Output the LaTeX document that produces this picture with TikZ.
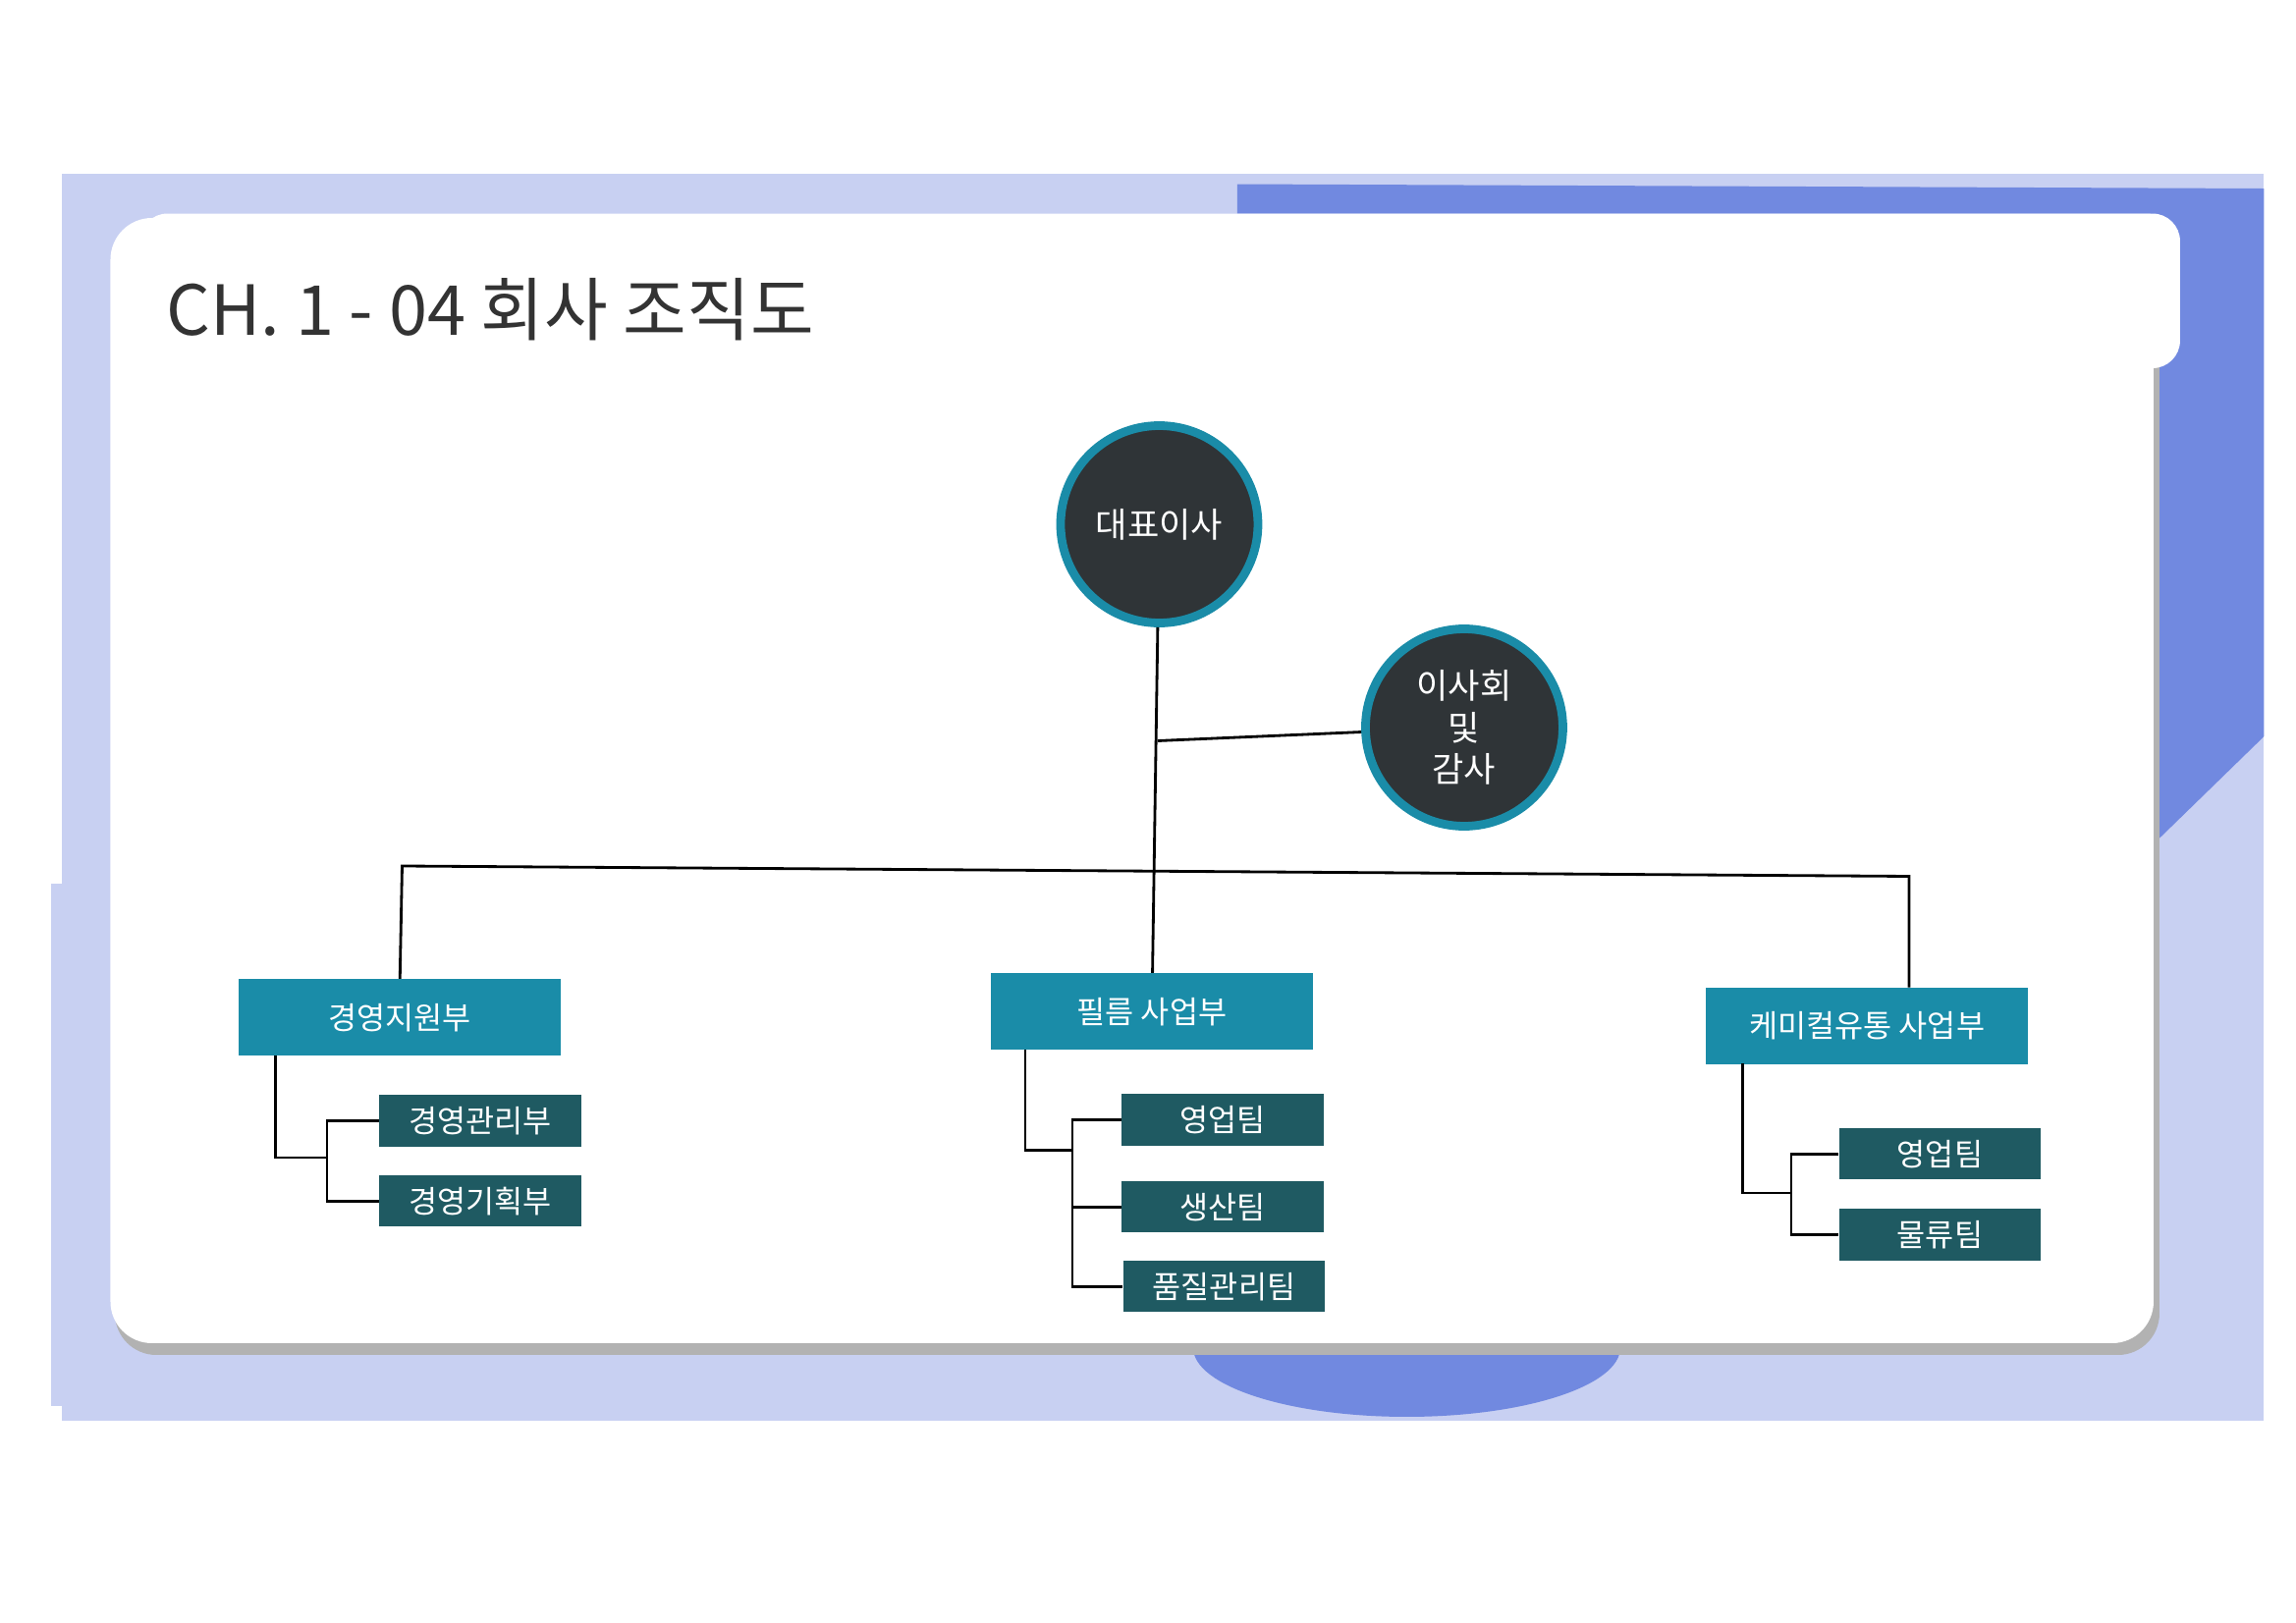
\documentclass[tikz,border=0pt]{standalone}
\usepackage{fontspec}
\setmainfont{Noto Sans CJK KR}
\usetikzlibrary{positioning}
\definecolor{bglav}{HTML}{C8D0F2}
\definecolor{bgblue}{HTML}{7189E0}
\definecolor{headteal}{HTML}{1A8CA8}
\definecolor{subteal}{HTML}{1F5A62}
\definecolor{circdark}{HTML}{2F3437}
\tikzset{
  head/.style={fill=headteal, text=white, minimum width=219*0.015cm, minimum height=52*0.015cm, font=\fontsize{9}{11}\selectfont},
  sub/.style={fill=subteal, text=white, minimum width=137*0.015cm, minimum height=35*0.015cm, font=\fontsize{9}{11}\selectfont},
  boss/.style={circle, fill=circdark, draw=headteal, line width=2.5pt, minimum size=134*0.015cm, text=white, align=center, font=\fontsize{10}{12}\selectfont},
  link/.style={draw=black, line width=0.8pt}
}
\begin{document}
\begin{tikzpicture}[x=0.015cm, y=-0.015cm]
  \useasboundingbox (0,0) rectangle (1558.7,1102);
  \fill[white] (0,0) rectangle (1558.7,1102);
  % background
  \fill[bglav] (42,118) rectangle (1537,965);
  \fill[bglav] (35,600) rectangle (100,955);
  \fill[bgblue] (840,125) -- (1537,128) -- (1537,500) -- (1460,575) -- (1460,145) -- (840,145) -- cycle;
  \fill[bgblue] (810,915) arc (180:0:145 and 47) -- cycle;
  % card
  \fill[gray!60, rounded corners=12pt] (78,152) rectangle (1466,920);
  \fill[white, rounded corners=12pt] (75,148) rectangle (1462,912);
  \fill[white, rounded corners=8pt] (95,145) rectangle (1480,250);
  \node[anchor=west, text=black!80, font=\fontsize{20}{24}\selectfont] (title) at (105,210) {CH. 1 - 04 회사 조직도};
  % top
  \node[boss] (ceo) at (787,356) {대표이사};
  \node[boss] (board) at (994,494) {이사회\\ 및\\ 감사};
  \node[head] (mgmt) at (271.5,691) {경영지원부};
  \node[head] (film) at (782,687) {필름 사업부};
  \node[head] (chem) at (1267.5,696.5) {케미컬유통 사업부};
  \node[sub] (m1) at (326,761) {경영관리부};
  \node[sub] (m2) at (326,815.5) {경영기획부};
  \node[sub] (f1) at (830,760.5) {영업팀};
  \node[sub] (f2) at (830,819.5) {생산팀};
  \node[sub] (f3) at (831,873.5) {품질관리팀};
  \node[sub] (c1) at (1317,783.5) {영업팀};
  \node[sub] (c2) at (1317,838.5) {물류팀};
  \coordinate (mid) at (786,503);
  \coordinate (chemtop) at (1296,670.5);
  \draw[link] (ceo) -- (film);
  \draw[link] (mid) -- (board);
  \draw[link] (mgmt.north) -- (273,588) -- (1296,595) -- (chemtop);
  % sub links
  \draw[link] (187,717) |- (222,786);
  \draw[link] (m1.west) -| (222,815.5) -- (m2.west);
  \draw[link] (696,713) |- (728,781);
  \draw[link] (f1.west) -| (728,873.5) -- (f3.west);
  \draw[link] (728,819.5) -- (f2.west);
  \draw[link] (1183,722) |- (1216,810);
  \draw[link] (c1.west) -| (1216,838.5) -- (c2.west);
\end{tikzpicture}
\end{document}
